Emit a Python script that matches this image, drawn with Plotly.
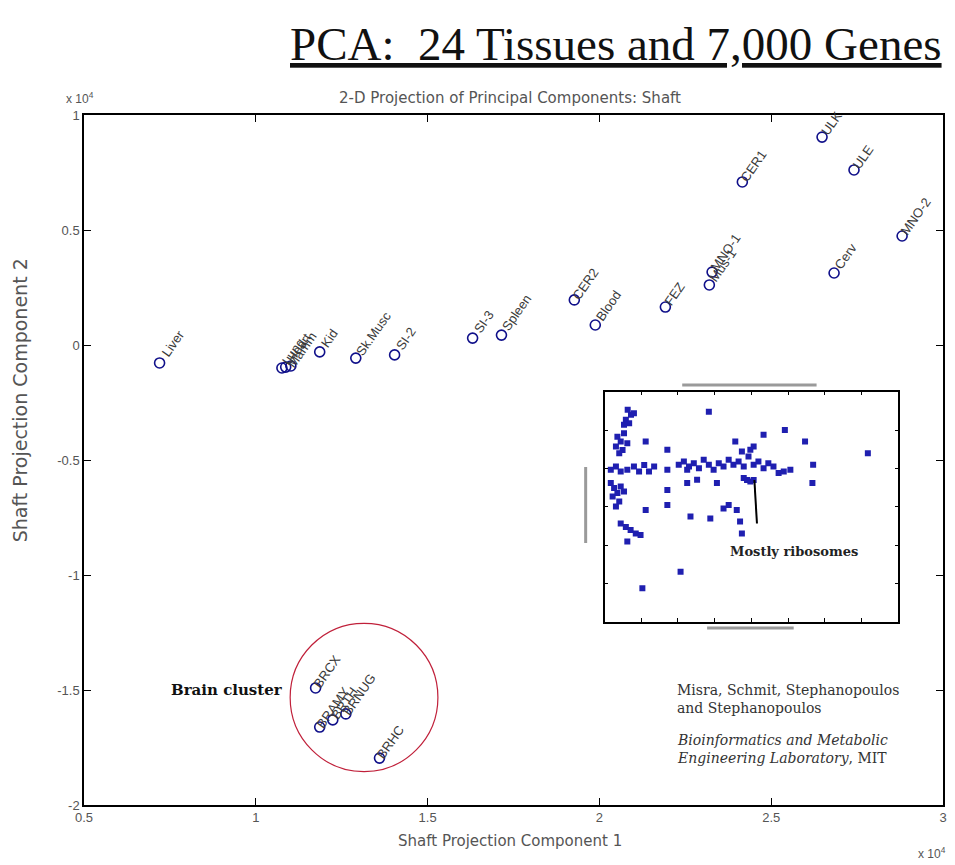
import plotly.graph_objects as go
import math

# ---- main PCA data (units of 1e4) ----
tissues = ["Liver", "Lung", "Heart", "Mamm", "Kid", "Sk.Musc", "SI-2", "SI-3", "Spleen",
           "CER2", "Blood", "FEZ", "Mus-1", "MNO-1", "CER1", "ULK", "ULE", "Cerv", "MNO-2",
           "BRCX", "BRAMY", "BRTH", "BRNUG", "BRHC"]
pc1 = [0.72, 1.076, 1.087, 1.102, 1.186, 1.291, 1.404, 1.631, 1.715,
       1.927, 1.988, 2.192, 2.320, 2.328, 2.416, 2.648, 2.741, 2.683, 2.881,
       1.174, 1.186, 1.224, 1.262, 1.360]
pc2 = [-0.078, -0.100, -0.096, -0.091, -0.030, -0.057, -0.043, 0.030, 0.043,
       0.196, 0.087, 0.165, 0.261, 0.317, 0.709, 0.904, 0.761, 0.313, 0.474,
       -1.491, -1.661, -1.630, -1.604, -1.796]

# ---- inset data (inset axis units) ----
inset_x = [0.63, 0.72, 0.58, 0.67, 0.80, 0.53, 0.35, 0.44, 0.31, 0.49, 0.40, 0.62, 0.53,
           0.17, 0.31, 0.44, 0.62, 0.80, 0.94, 1.08, 1.21, 1.35,
           0.17, 0.26, 0.35, 0.22, 0.40, 0.31, 0.44, 0.53,
           0.44, 0.58, 0.71, 0.85, 0.98, 0.62,
           1.12, 1.12, 1.03, 1.71, 1.71, 1.71, 1.71, 2.07, 2.84,
           2.02, 2.16, 2.30, 2.43, 2.57, 2.70, 2.84, 2.97, 3.11, 3.24, 3.38, 3.51,
           3.65, 3.79, 3.92, 4.06, 4.19, 4.33, 4.46, 4.60, 4.74, 4.88, 5.06,
           2.25, 2.25, 2.52, 3.06, 2.34, 2.88, 3.24, 3.38, 3.60, 3.69, 3.74,
           3.56, 4.06, 4.33, 3.74, 3.97, 3.88, 3.97, 4.06, 3.79,
           4.91, 5.46, 5.68, 5.66, 7.17]
inset_y = [5.53, 5.40, 5.27, 5.18, 5.44, 5.14, 4.83, 4.70, 4.57, 4.48, 4.40, 4.66, 4.92,
           3.97, 4.05, 3.92, 3.97, 4.05, 3.92, 4.09, 3.92, 4.05,
           3.62, 3.49, 3.36, 3.27, 3.14, 3.01, 3.53, 3.40,
           2.57, 2.48, 2.40, 2.31, 2.27, 2.10,
           4.70, 2.92, 0.88, 4.49, 3.97, 3.44, 3.05, 1.31, 5.48,
           4.10, 4.18, 4.05, 4.14, 4.01, 4.23, 4.10, 3.97, 4.14, 4.05, 4.23, 4.10,
           4.18, 4.05, 4.31, 4.10, 4.18, 4.01, 4.14, 4.05, 3.88, 3.92, 3.97,
           3.97, 3.62, 3.71, 3.62, 2.75, 2.70, 2.96, 3.05, 2.92, 2.62, 2.31,
           4.70, 4.57, 4.88, 4.44, 4.49, 3.70, 3.66, 3.70, 3.75,
           5.00, 4.70, 4.10, 3.62, 4.40]

NAVY = "#10108a"
SANS = "DejaVu Sans, Arial"
ARIAL = "Arial, Liberation Sans"
SERIF = "Liberation Serif, Times New Roman"
WSERIF = "DejaVu Serif, Liberation Serif"
fig = go.Figure()

fig.add_trace(go.Scatter(
    x=pc1, y=pc2, mode="markers",
    marker=dict(symbol="circle-open", size=10, color=NAVY, line=dict(width=1.6, color=NAVY)),
    hoverinfo="skip", showlegend=False))

# rotated labels
ang = 55
for xv, yv, t in zip(pc1, pc2, tissues):
    L = len(t) * 7.0
    d = L / 2 + 6
    fig.add_annotation(x=xv, y=yv, text=t, showarrow=False, textangle=-ang,
                       xshift=d * math.cos(math.radians(ang)),
                       yshift=d * math.sin(math.radians(ang)),
                       font=dict(family=ARIAL, size=13, color="#3a3a3a"))

# inset scatter
fig.add_trace(go.Scatter(
    x=inset_x, y=inset_y, mode="markers", xaxis="x2", yaxis="y2",
    marker=dict(symbol="square", size=6, color="#1f1fb0"),
    hoverinfo="skip", showlegend=False))

tickfont = dict(family=ARIAL, size=13, color="#555555")
fig.update_layout(
    width=955, height=865,
    paper_bgcolor="white", plot_bgcolor="white",
    margin=dict(l=84, r=8, t=115, b=60),
    xaxis=dict(range=[0.5, 3], tickvals=[0.5, 1, 1.5, 2, 2.5, 3],
               ticktext=["0.5", "1", "1.5", "2", "2.5", "3"],
               showgrid=False, zeroline=False, showline=True, linecolor="black",
               linewidth=1.5, mirror="ticks", ticks="inside", ticklen=7,
               tickcolor="black", tickfont=tickfont, domain=[0, 1]),
    yaxis=dict(range=[-2, 1], tickvals=[-2, -1.5, -1, -0.5, 0, 0.5, 1],
               ticktext=["-2", "-1.5", "-1", "-0.5", "0", "0.5", "1"],
               showgrid=False, zeroline=False, showline=True, linecolor="black",
               linewidth=1.5, mirror="ticks", ticks="inside", ticklen=7,
               tickcolor="black", tickfont=tickfont, domain=[0, 1]),
    xaxis2=dict(domain=[0.606, 0.948], anchor="y2", range=[0, 8],
                tickvals=list(range(0, 9)), showticklabels=False,
                showgrid=False, zeroline=False, showline=True, linecolor="black",
                linewidth=1.5, mirror="ticks", ticks="inside", ticklen=4, tickcolor="black"),
    yaxis2=dict(domain=[0.265, 0.599], anchor="x2", range=[0, 6],
                tickvals=list(range(0, 7)), showticklabels=False,
                showgrid=False, zeroline=False, showline=True, linecolor="black",
                linewidth=1.5, mirror="ticks", ticks="inside", ticklen=4, tickcolor="black"),
)

# brain circle
fig.add_shape(type="circle", xref="x", yref="y", x0=1.10, x1=1.53, y0=-1.855, y1=-1.21,
              line=dict(color="#c0203a", width=1.2))

# inset ribosome arrow
fig.add_shape(type="line", xref="x2", yref="y2", x0=4.08, y0=3.70, x1=4.15, y1=2.57,
              line=dict(color="black", width=2))

def px(xp, yp):
    return (xp - 84) / 863, (805 - yp) / 690

# gray blurred inset axis label bars
for (x0, y0, x1, y1) in [(685, 385, 820, 385), (710, 628, 797, 628), (588, 467, 588, 543)]:
    fig.add_shape(type="line", xref="paper", yref="paper",
                  x0=px(x0, y0)[0], x1=px(x1, y1)[0], y0=px(x0, y0)[1], y1=px(x1, y1)[1],
                  line=dict(color="#9a9a9a", width=3))

def note(xp, yp, text, size, family=SANS, color="#555555", xanchor="center", angle=0):
    fig.add_annotation(xref="paper", yref="paper", x=px(xp, 0)[0], y=px(0, yp)[1],
                       text=text, showarrow=False, xanchor=xanchor, yanchor="middle",
                       textangle=angle, align="left",
                       font=dict(family=family, size=size, color=color))

note(948, 44, "<u>PCA:&nbsp; 24 Tissues and 7,000 Genes</u>", 47, SERIF, "#111111", "right")
note(512, 98, "2-D Projection of Principal Components: Shaft", 15)
note(512, 841, "Shaft Projection Component 1", 15)
note(20, 400, "Shaft Projection Component 2", 19, angle=-90)
note(80, 98, "x 10<sup>4</sup>", 12, ARIAL)
note(952, 853, "x 10<sup>4</sup>", 12, ARIAL, xanchor="right")
note(286, 690, "<b>Brain cluster</b>", 15, WSERIF, "#111111", "right")
note(797, 551, "<b>Mostly ribosomes</b>", 13, WSERIF, "#222222")
note(678, 690, "Misra, Schmit, Stephanopoulos", 14, WSERIF, "#333333", "left")
note(678, 708, "and Stephanopoulos", 14, WSERIF, "#333333", "left")
note(678, 740, "<i>Bioinformatics and Metabolic</i>", 14, WSERIF, "#333333", "left")
note(678, 758, "<i>Engineering Laboratory</i>, MIT", 14, WSERIF, "#333333", "left")

fig.write_html("out.html", config={"displayModeBar": False},
               post_script="document.body.style.margin='0px';document.body.style.overflow='hidden';")
